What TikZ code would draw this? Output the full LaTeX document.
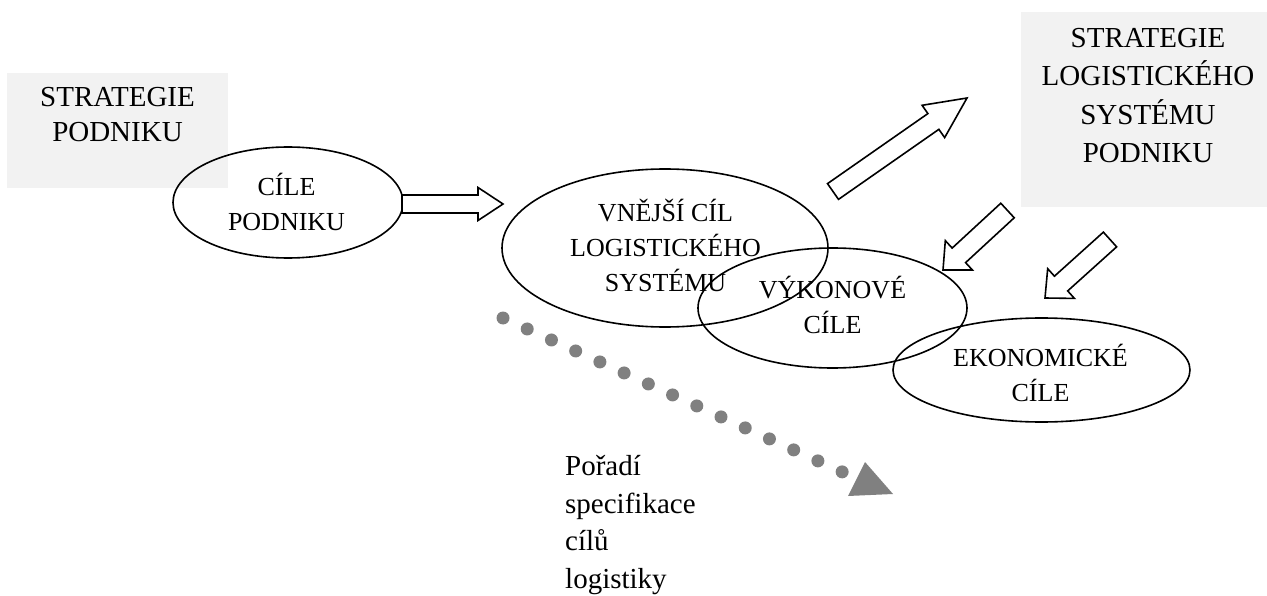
\documentclass[tikz,border=0pt]{standalone}
\usepackage{fontspec}
\setmainfont{Liberation Serif}
\usetikzlibrary{calc,shapes.geometric}

% hollow block arrow: tail, tip, shaft half width, head half width, head length
\newcommand\blockarrow[5]{%
  \coordinate (abase) at ($(#2)!#5!(#1)$);
  \draw[blockarrow] ($(#1)!#3!90:(#2)$) -- ($(abase)!#3!90:(#2)$)
    -- ($(abase)!#4!90:(#2)$) -- (#2) -- ($(abase)!#4!-90:(#2)$)
    -- ($(abase)!#3!-90:(#2)$) -- ($(#1)!#3!-90:(#2)$) -- cycle;}

\definecolor{boxgray}{RGB}{242,242,242}
\definecolor{dotgray}{RGB}{128,128,128}

% multi-line text nodes are placed by the baseline of their last line
\tikzset{
  graybox/.style={fill=boxgray, draw=none, inner sep=0pt},
  goal/.style={ellipse, draw, line width=1.6pt, inner sep=0pt},
  boxtext/.style={align=center, inner sep=0pt, anchor=base,
    font=\fontsize{29}{38.5}\selectfont},
  goaltext/.style={align=center, inner sep=0pt, anchor=base,
    font=\fontsize{26}{35}\selectfont},
  blockarrow/.style={draw, fill=white, line width=1.6pt, line join=miter},
  order/.style={dotgray, line width=13pt, line cap=round,
    dash pattern=on 0pt off 26.6pt},
}

\begin{document}
\begin{tikzpicture}[x=1pt, y=-1pt]
\useasboundingbox (0,0) rectangle (1267,596);

% strategy boxes
\node[graybox, minimum width=221, minimum height=115] (sp) at (117.5,130.5) {};
\node[boxtext, font=\fontsize{29}{35}\selectfont] (spt) at (117.5,142) {STRATEGIE\\PODNIKU};
\node[graybox, minimum width=246, minimum height=195] (sl) at (1144,109.5) {};
\node[boxtext] (slt) at (1148,163) {STRATEGIE\\LOGISTICKÉHO\\SYSTÉMU\\PODNIKU};

% goal ellipses
\node[goal, minimum width=230, minimum height=111] (cp) at (288,202.5) {};
\node[goaltext] (cpt) at (286.5,231) {CÍLE\\PODNIKU};
\node[goal, minimum width=326, minimum height=158] (vc) at (665,248) {};
\node[goaltext] (vct) at (665.5,291) {VNĚJŠÍ CÍL\\LOGISTICKÉHO\\SYSTÉMU};
\node[goal, minimum width=269, minimum height=120] (vy) at (832.5,308) {};
\node[goaltext] (vyt) at (832.5,333) {VÝKONOVÉ\\CÍLE};
\node[goal, minimum width=297, minimum height=104] (ek) at (1041.5,370) {};
\node[goaltext] (ekt) at (1040.5,401) {EKONOMICKÉ\\CÍLE};

% block arrows
\coordinate (a1s) at (402,204);   \coordinate (a1e) at (503,204);
\coordinate (a2s) at (833,191.5); \coordinate (a2e) at (967,98);
\coordinate (a3s) at (1007.5,210.5); \coordinate (a3e) at (943,270);
\coordinate (a4s) at (1110,239.5);   \coordinate (a4e) at (1045,298);
\blockarrow{a1s}{a1e}{9pt}{16.5pt}{25pt}
\blockarrow{a2s}{a2e}{9.6pt}{19.7pt}{41pt}
\blockarrow{a3s}{a3e}{9.9pt}{20pt}{21.6pt}
\blockarrow{a4s}{a4e}{9.9pt}{20pt}{21.6pt}

% order of specification
\coordinate (os) at (503,318);
\coordinate (oe) at (843.5,472.5);
\draw[order] (os) -- (oe);
\coordinate (h1) at (865,462);
\coordinate (h2) at (893,494);
\coordinate (h3) at (848,496);
\fill[dotgray] (h1) -- (h2) -- (h3) -- cycle;
\node[anchor=base west, align=left, inner sep=0pt,
  font=\fontsize{29}{37.5}\selectfont] (ord) at (565,588)
  {Pořadí\\specifikace\\cílů\\logistiky};
\end{tikzpicture}
\end{document}
